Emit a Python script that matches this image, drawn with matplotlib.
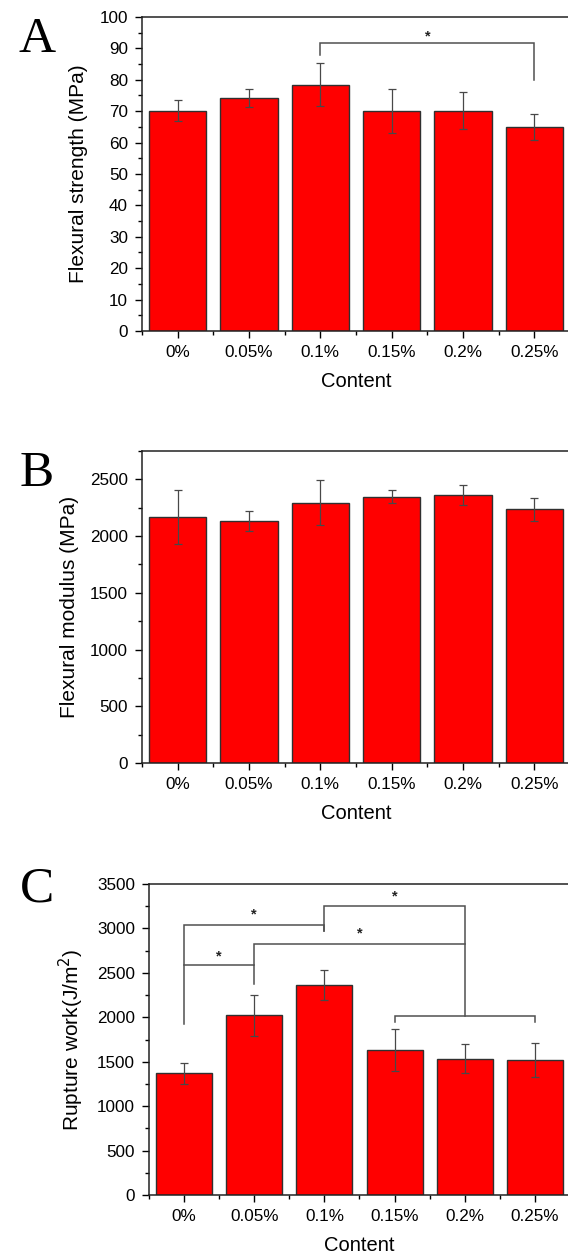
"""Three stacked bar panels: flexural strength, modulus and rupture work vs content."""
import matplotlib
matplotlib.use("Agg")
import matplotlib.pyplot as plt
from matplotlib.ticker import MultipleLocator
import numpy as np

plt.rcParams["font.family"] = ["Liberation Sans", "DejaVu Sans"]

CONTENT = ["0%", "0.05%", "0.1%", "0.15%", "0.2%", "0.25%"]

STRENGTH = [70.2, 74.3, 78.5, 70.1, 70.1, 65.0]
STRENGTH_ERR = [3.3, 2.9, 7.0, 6.9, 5.9, 4.1]

MODULUS = [2170, 2135, 2295, 2345, 2365, 2235]
MODULUS_ERR = [237, 90, 198, 57, 88, 103]

RUPTURE = [1370, 2025, 2365, 1632, 1535, 1520]
RUPTURE_ERR = [120, 230, 170, 240, 160, 190]

# brackets: (x_left, x_right, y, left leg bottom, right leg bottom)
BRACKETS_A = [(2, 5, 91.6, 88.0, 80.0)]
STARS_A = [(3.5, 92.4)]  # star baselines
BRACKETS_C = [
    (0, 2, 3040, 1930, 2970),
    (2, 4, 3255, 2970, 2015),
    (1, 4, 2825, 2585, 2825),
    (0, 1, 2585, 2585, 2375),
    (3, 5, 2015, 1950, 1950),
]
STARS_C = [(1, 3110), (3, 3318), (2.5, 2894), (0.5, 2638)]

W, H = 568, 1254


def draw_panel(fig, rect, vals, errs, ylim, major, minor, ylabel, letter, letter_y):
    ax = fig.add_axes(rect)
    x = np.arange(len(CONTENT))
    ax.bar(x, vals, width=0.8, color="#ff0000", edgecolor="#303030", linewidth=1.0, zorder=2)
    ax.errorbar(x, vals, yerr=errs, fmt="none", ecolor="#484848", elinewidth=0.9,
                capsize=3, capthick=0.9, zorder=3)
    ax.set_xlim(-0.5, 5.5)
    ax.set_ylim(*ylim)
    ax.set_xticks(x)
    ax.set_xticklabels(CONTENT)
    ax.xaxis.set_minor_locator(MultipleLocator(0.5))
    ax.yaxis.set_major_locator(MultipleLocator(major))
    ax.yaxis.set_minor_locator(MultipleLocator(minor))
    ax.tick_params(axis="both", which="major", direction="out", length=5, width=1,
                   labelsize=12.3, pad=5, top=False, right=False)
    ax.tick_params(axis="both", which="minor", direction="out", length=3, width=1,
                   top=False, right=False)
    for s in ax.spines.values():
        s.set_linewidth(1.1)
        s.set_color("#222222")
    ax.set_xlabel("Content", fontsize=14.5, labelpad=9)
    ax.set_ylabel(ylabel, fontsize=15, labelpad=8)
    fig.text(37 / W, 1 - letter_y / H, letter, family="Liberation Serif",
             fontsize=37, ha="center", va="center")
    return ax


def draw_brackets(ax, brackets, stars):
    for x0, x1, y, yl, yr in brackets:
        ax.plot([x0, x0, x1, x1], [yl, y, y, yr], color="#505050", lw=1.1,
                solid_joinstyle="miter", zorder=4)
    for sx, sy in stars:
        ax.text(sx, sy, "*", ha="center", va="baseline", fontsize=10.5,
                fontweight="bold", color="#222222")


fig = plt.figure(figsize=(W / 100, H / 100), dpi=100)

ax_a = draw_panel(fig, [142 / W, 1 - 331 / H, 428 / W, 314 / H],
                  STRENGTH, STRENGTH_ERR, (0, 100), 10, 5,
                  "Flexural strength (MPa)", "A", 40)
draw_brackets(ax_a, BRACKETS_A, STARS_A)

draw_panel(fig, [142 / W, 1 - 763 / H, 428 / W, 312 / H],
           MODULUS, MODULUS_ERR, (0, 2750), 500, 250,
           "Flexural modulus (MPa)", "B", 474)

ax_c = draw_panel(fig, [149 / W, 1 - 1195 / H, 421 / W, 311 / H],
                  RUPTURE, RUPTURE_ERR, (0, 3500), 500, 250,
                  "Rupture work(J/m$^2$)", "C", 889)
draw_brackets(ax_c, BRACKETS_C, STARS_C)

fig.savefig("out.png", dpi=100)
